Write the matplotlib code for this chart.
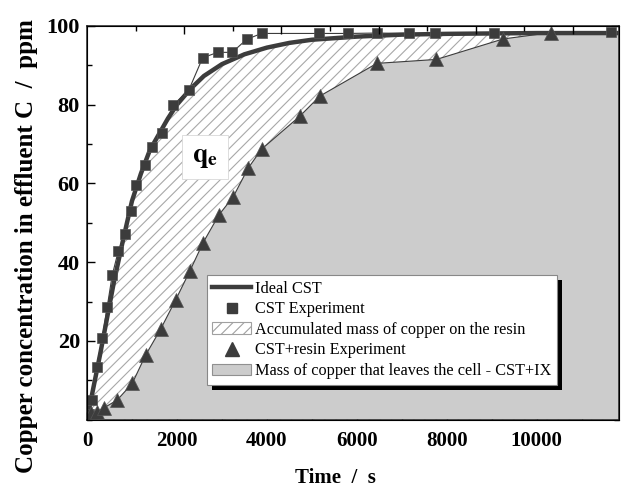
import numpy as np
import matplotlib
matplotlib.use("Agg")
from matplotlib import pyplot as plt
from matplotlib.patches import Patch, Rectangle
from matplotlib.lines import Line2D

plt.rcParams['font.family'] = ['Liberation Serif', 'DejaVu Serif']
plt.rcParams['mathtext.fontset'] = 'stix'
plt.rcParams['hatch.linewidth'] = 0.8

# ---- data ----
# ideal CST breakthrough curve
ideal_t = [0, 150, 300, 450, 600, 800, 1000, 1200, 1400, 1600, 1800, 2000, 2300,
           2600, 3000, 3500, 4000, 4500, 5000, 6000, 7000, 8000, 9000, 10000, 11830]
ideal_c = [0, 8.5, 17, 26, 35, 45.5, 55.5, 62.5, 68.5, 72.5, 76.5, 80, 84,
           87.3, 90.3, 92.8, 94.5, 95.7, 96.5, 97.3, 97.8, 98, 98.1, 98.2, 98.2]

# CST experiment (squares)
cst_t = [50, 120, 216, 340, 451, 562, 696, 844, 971, 1082, 1289, 1451, 1660, 1918,
         2267, 2571, 2904, 3229, 3549, 3882, 5160, 5810, 6450, 7160, 7740, 9040, 11650]
cst_c = [1.5, 5, 13.5, 20.7, 28.7, 36.7, 42.8, 47.2, 53, 59.6, 64.7, 69.3, 72.8, 79.9,
         83.8, 91.9, 93.3, 93.3, 96.6, 98.1, 98.1, 98.1, 98.2, 98.1, 98.1, 98.1, 98.5]

# CST + resin experiment (triangles)
res_t = [80, 222, 378, 673, 1007, 1304, 1638, 1971, 2289, 2584, 2933, 3251, 3584,
         3882, 4733, 5178, 6444, 7767, 9251, 10310]
res_c = [1.7, 2, 3, 5, 9.2, 16.4, 23, 30.4, 37.8, 45, 52, 56.6, 63.9,
         68.7, 77.1, 82.2, 90.5, 91.5, 96.7, 98.3]

xmax = 11830
dark = '#3c3c3c'
grey = '#cccccc'

fig = plt.figure(figsize=(6.21, 4.90), dpi=100)
ax = fig.add_axes([0.140, 0.1435, 0.857, 0.8035])

# hatched area under the ideal curve, then grey area under the resin curve
ax.fill_between(ideal_t, ideal_c, 0, facecolor='white', edgecolor='#a8a8a8',
                hatch='///', linewidth=0, zorder=1)
ax.fill_between(res_t + [xmax], res_c + [res_c[-1]], 0, facecolor=grey,
                edgecolor='none', linewidth=0, zorder=2)

ax.plot(ideal_t, ideal_c, color=dark, lw=3.2, zorder=3, solid_capstyle='round')
ax.plot(cst_t, cst_c, color=dark, lw=0.8, marker='s', ms=7, mfc=dark,
        mec='#555555', mew=0.5, zorder=4)
ax.plot(res_t, res_c, color=dark, lw=0.8, marker='^', ms=9.5, mfc=dark,
        mec='#555555', mew=0.5, zorder=4)

ax.text(2620, 66.7, r'$\mathbf{q}_{\mathbf{e}}$', fontsize=20, ha='center',
        va='center', zorder=5,
        bbox=dict(boxstyle='square,pad=0.35', facecolor='white',
                  edgecolor='#d8d8d8', linewidth=0.6))

ax.set_xlim(0, xmax)
ax.set_ylim(0, 100)
ax.set_xticks([0, 2000, 4000, 6000, 8000, 10000])
ax.set_xticks(np.arange(1000, 11001, 2000), minor=True)
ax.set_yticks([20, 40, 60, 80, 100])
ax.set_yticks([0, 10, 30, 50, 70, 90], minor=True)
ax.tick_params(which='both', direction='in', right=True, top=False, width=1)
ax.tick_params(which='major', length=6, labelsize=15, pad=8)
ax.tick_params(axis='y', which='major', pad=5, labelsize=16)
ax.tick_params(which='minor', length=3.5)
for lab in ax.get_xticklabels() + ax.get_yticklabels():
    lab.set_fontweight('bold')
for s in ax.spines.values():
    s.set_linewidth(1.1)
    s.set_color('#222222')

# top axis of the original layer has its own scale
top = ax.twiny()
top.set_xlim(0, 10950)
top.set_xticks(np.arange(2000, 10001, 2000))
top.set_xticks(np.arange(1000, 10001, 2000), minor=True)
top.tick_params(which='both', direction='in', labeltop=False, width=1)
top.tick_params(which='major', length=6)
top.tick_params(which='minor', length=3.5)

ax.set_xlabel('Time  /  s', fontsize=15, fontweight='bold')
ax.set_ylabel('Copper concentration in effluent C  /  ppm', fontsize=18,
              fontweight='bold')
ax.xaxis.set_label_coords(0.466, -0.122)
ax.yaxis.set_label_coords(-0.092, 0.441)

handles = [
    Line2D([], [], color=dark, lw=3.2),
    Line2D([], [], color=dark, marker='s', ls='none', ms=7),
    Patch(facecolor='white', edgecolor='#a0a0a0', hatch='///', lw=0.8),
    Line2D([], [], color=dark, marker='^', ls='none', ms=9.5),
    Patch(facecolor=grey, edgecolor='#909090', lw=0.8),
]
labels = ['Ideal CST', 'CST Experiment', 'Accumulated mass of copper on the resin',
          'CST+resin Experiment', 'Mass of copper that leaves the cell - CST+IX']
leg = ax.legend(handles, labels, loc='upper left', bbox_to_anchor=(0.225, 0.3675),
                borderaxespad=0, fontsize=11.7, frameon=True, fancybox=False,
                edgecolor='#888888', framealpha=1, handlelength=2.4,
                handletextpad=0.2, labelspacing=0.28, borderpad=0.35)
leg.get_frame().set_linewidth(0.8)
leg.set_zorder(10)

# solid black drop shadow behind the legend box
fig.canvas.draw()
bb = leg.get_window_extent()
shadow = Rectangle((bb.x0 + 5, bb.y0 - 5), bb.width, bb.height,
                   transform=None, facecolor='black', edgecolor='none', zorder=9)
ax.add_artist(shadow)

fig.savefig('out.png', dpi=100)
